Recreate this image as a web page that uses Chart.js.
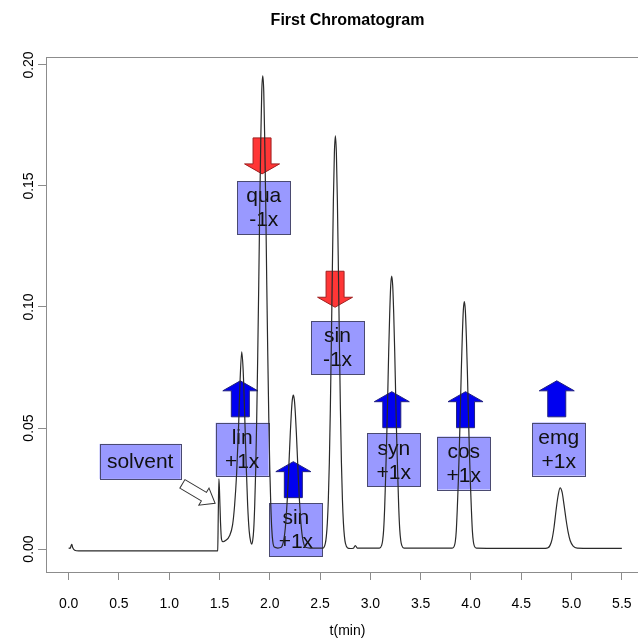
<!DOCTYPE html>
<html>
<head>
<meta charset="utf-8">
<title>First Chromatogram</title>
<script src="https://cdn.jsdelivr.net/npm/chart.js@4/dist/chart.umd.min.js"></script>
<style>
  html, body { margin: 0; padding: 0; background: #fff; overflow: hidden; }
  canvas { display: block; }
</style>
</head>
<body>
<canvas id="chrom" width="660" height="638"></canvas>
<script>
// Detector trace: retention time (min) and signal
const times = [
  0.000, 0.015, 0.025, 0.032, 0.040, 0.060, 0.100, 0.500, 1.000, 1.470,
  1.482, 1.488, 1.494, 1.500, 1.510, 1.520, 1.535,
  1.560, 1.600, 1.630, 1.650, 1.670, 1.690, 1.705, 1.721, 1.735, 1.750, 1.765, 1.780, 1.795, 1.810,
  1.820, 1.830, 1.840, 1.850, 1.860, 1.870, 1.880, 1.890, 1.900, 1.910, 1.920, 1.930,
  1.940, 1.950, 1.960, 1.970, 1.980, 1.990, 2.000, 2.010, 2.020, 2.030, 2.045, 2.080,
  2.114, 2.134, 2.144, 2.154, 2.164, 2.174, 2.184, 2.194, 2.204, 2.214, 2.224, 2.234,
  2.244, 2.254, 2.264, 2.274, 2.284, 2.294, 2.304, 2.314, 2.324, 2.334, 2.354, 2.400, 2.500,
  2.530, 2.552, 2.562, 2.572, 2.582, 2.592, 2.602, 2.612, 2.622, 2.632, 2.642, 2.652,
  2.662, 2.672, 2.682, 2.692, 2.702, 2.712, 2.722, 2.732, 2.742, 2.752, 2.774,
  2.800, 2.830, 2.850, 2.870, 2.900, 3.000,
  3.090, 3.112, 3.122, 3.132, 3.142, 3.152, 3.162, 3.172, 3.182, 3.192, 3.202, 3.212,
  3.222, 3.232, 3.242, 3.252, 3.262, 3.272, 3.282, 3.292, 3.302, 3.312, 3.334, 3.500, 3.700,
  3.814, 3.834, 3.844, 3.854, 3.864, 3.874, 3.884, 3.894, 3.904, 3.914, 3.924, 3.934,
  3.944, 3.954, 3.964, 3.974, 3.984, 3.994, 4.004, 4.014, 4.024, 4.034, 4.054, 4.300, 4.600,
  4.740, 4.766, 4.786, 4.806, 4.826, 4.846, 4.866, 4.886, 4.906, 4.926, 4.946, 4.966, 4.986,
  5.016, 5.056, 5.200, 5.500
];
const signal = [
  0.0004, 0.0003, 0.0014, 0.0019, 0.0006, -0.0005, -0.0008, -0.0008, -0.0008, -0.0008,
  -0.0007, 0.0150, 0.0290, 0.0240, 0.0110, 0.0040, 0.0030,
  0.0035, 0.0055, 0.0100, 0.0180, 0.0310, 0.0510, 0.0700, 0.0815, 0.0740, 0.0560, 0.0350, 0.0180, 0.0075, 0.0030,
  0.0020, 0.0035, 0.0080, 0.0180, 0.0330, 0.0540, 0.0800, 0.1090, 0.1410, 0.1680, 0.1890, 0.1955,
  0.1890, 0.1680, 0.1410, 0.1090, 0.0800, 0.0540, 0.0330, 0.0180, 0.0080, 0.0030, 0.0008, 0.0004,
  0.0007, 0.0028, 0.0050, 0.0086, 0.0138, 0.0207, 0.0292, 0.0386, 0.0480, 0.0561, 0.0617, 0.0636,
  0.0617, 0.0561, 0.0480, 0.0386, 0.0292, 0.0207, 0.0138, 0.0086, 0.0050, 0.0028, 0.0007, 0.0004, 0.0004,
  0.0004, 0.0023, 0.0052, 0.0107, 0.0205, 0.0358, 0.0579, 0.0853, 0.1157, 0.1437, 0.1635, 0.1707,
  0.1635, 0.1437, 0.1157, 0.0853, 0.0579, 0.0358, 0.0205, 0.0107, 0.0052, 0.0023, 0.0004,
  0.0002, 0.0003, 0.0014, 0.0004, 0.0004, 0.0004,
  0.0004, 0.0015, 0.0035, 0.0080, 0.0170, 0.0305, 0.0452, 0.0627, 0.0814, 0.0972, 0.1088, 0.1128,
  0.1088, 0.0972, 0.0814, 0.0627, 0.0452, 0.0305, 0.0170, 0.0080, 0.0035, 0.0015, 0.0004, 0.0004, 0.0004,
  0.0004, 0.0012, 0.0030, 0.0075, 0.0165, 0.0276, 0.0410, 0.0568, 0.0738, 0.0880, 0.0986, 0.1022,
  0.0986, 0.0880, 0.0738, 0.0568, 0.0410, 0.0276, 0.0165, 0.0075, 0.0030, 0.0012, 0.0004, 0.0003, 0.0003,
  0.0003, 0.0005, 0.0015, 0.0040, 0.0090, 0.0160, 0.0220, 0.0253, 0.0235, 0.0180, 0.0120, 0.0070, 0.0035,
  0.0012, 0.0004, 0.0003, 0.0003
];

// Axis ticks
const xTicks = [0, 0.5, 1, 1.5, 2, 2.5, 3, 3.5, 4, 4.5, 5, 5.5];
const yTicks = [0, 0.05, 0.10, 0.15, 0.20];

// Peak tags: name, response factor, tag centre (time, signal)
const tagNames   = ['lin', 'qua', 'sin', 'sin', 'syn', 'cos', 'emg'];
const tagFactors = ['+1x', '-1x', '+1x', '-1x', '+1x', '+1x', '+1x'];
const tagTimes   = [1.725, 1.940, 2.259, 2.673, 3.232, 3.928, 4.873];
const tagLevels  = [0.0412, 0.1411, 0.0080, 0.0832, 0.0369, 0.0355, 0.0413];
// Arrow tip for each tag (time, signal)
const arrowTimes = [1.707, 1.923, 2.234, 2.649, 3.213, 3.946, 4.853];
const arrowTips  = [0.0695, 0.1550, 0.0361, 0.0999, 0.0650, 0.0650, 0.0695];

// Solvent front label and pointer
const solventLabel = 'solvent';
const solventTagPos = [0.711, 0.0362];
const solventTipPos = [1.456, 0.0189];

const FONT = '"Liberation Sans", Arial, Helvetica, sans-serif';

function drawBlockArrow(ctx, x, tipY, up, fill, stroke) {
  const headW = 35, headH = 10, shaftW = 18, len = 36;
  const s = up ? 1 : -1;            // up: body below tip
  const baseY = tipY + s * headH;
  const endY = tipY + s * len;
  ctx.beginPath();
  ctx.moveTo(x, tipY);
  ctx.lineTo(x + headW / 2, baseY);
  ctx.lineTo(x + shaftW / 2, baseY);
  ctx.lineTo(x + shaftW / 2, endY);
  ctx.lineTo(x - shaftW / 2, endY);
  ctx.lineTo(x - shaftW / 2, baseY);
  ctx.lineTo(x - headW / 2, baseY);
  ctx.closePath();
  ctx.fillStyle = fill;
  ctx.fill();
  ctx.lineWidth = 1;
  ctx.strokeStyle = stroke;
  ctx.stroke();
}

function drawTag(ctx, cx, cy, w, h, lines) {
  ctx.fillStyle = 'rgba(105, 105, 255, 0.68)';
  ctx.fillRect(cx - w / 2, cy - h / 2, w, h);
  ctx.lineWidth = 1;
  ctx.strokeStyle = '#4a4a70';
  ctx.strokeRect(Math.round(cx - w / 2) + 0.5, Math.round(cy - h / 2) + 0.5, w, h);
  ctx.fillStyle = '#111';
  ctx.font = '21px ' + FONT;
  ctx.textAlign = 'center';
  ctx.textBaseline = 'middle';
  const lh = 24;
  const y0 = cy - (lines.length - 1) * lh / 2;
  lines.forEach((t, i) => ctx.fillText(t, cx, y0 + i * lh + 1));
}

const annotations = {
  id: 'peakAnnotations',
  beforeDatasetsDraw(chart) {
    const { ctx, scales: { x, y } } = chart;
    ctx.save();
    // solvent tag and hollow pointer
    drawTag(ctx, x.getPixelForValue(solventTagPos[0]), y.getPixelForValue(solventTagPos[1]), 81, 35, [solventLabel]);
    const tx = x.getPixelForValue(solventTipPos[0]);
    const ty = y.getPixelForValue(solventTipPos[1]);
    ctx.save();
    ctx.translate(tx, ty);
    ctx.rotate(Math.atan2(19, 32));
    ctx.beginPath();
    ctx.moveTo(0, 0);
    ctx.lineTo(-13, -10);
    ctx.lineTo(-13, -5);
    ctx.lineTo(-38, -5);
    ctx.lineTo(-38, 5);
    ctx.lineTo(-13, 5);
    ctx.lineTo(-13, 10);
    ctx.closePath();
    ctx.fillStyle = '#fff';
    ctx.fill();
    ctx.strokeStyle = '#333';
    ctx.lineWidth = 1;
    ctx.stroke();
    ctx.restore();

    // peak tags with response arrows
    tagNames.forEach((name, i) => {
      const up = tagFactors[i].startsWith('+');
      drawTag(ctx, x.getPixelForValue(tagTimes[i]), y.getPixelForValue(tagLevels[i]), 53, 53, [name, tagFactors[i]]);
      drawBlockArrow(ctx, x.getPixelForValue(arrowTimes[i]), y.getPixelForValue(arrowTips[i]), up,
        up ? '#0000f0' : '#ff3636', up ? '#202080' : '#a02020');
    });
    ctx.restore();
  },
  afterDraw(chart) {
    const { ctx, chartArea: a, scales: { y } } = chart;
    ctx.save();
    // plot frame
    ctx.strokeStyle = '#8c8c8c';
    ctx.lineWidth = 1;
    ctx.strokeRect(a.left + 0.5, a.top + 0.5, a.right - a.left, a.bottom - a.top);
    // title
    const cx = (a.left + a.right) / 2;
    ctx.fillStyle = '#000';
    ctx.textAlign = 'center';
    ctx.textBaseline = 'middle';
    ctx.font = 'bold 16px ' + FONT;
    ctx.fillText('First Chromatogram', cx, 21);
    // x axis title
    ctx.font = '14px ' + FONT;
    ctx.fillText('t(min)', cx, 631);
    // y tick labels, reading upward
    yTicks.forEach(v => {
      ctx.save();
      ctx.translate(29, y.getPixelForValue(v));
      ctx.rotate(-Math.PI / 2);
      ctx.fillText(v.toFixed(2), 0, 0);
      ctx.restore();
    });
    ctx.restore();
  }
};

new Chart(document.getElementById('chrom'), {
  type: 'scatter',
  data: {
    datasets: [{
      data: times.map((t, i) => ({ x: t, y: signal[i] })),
      showLine: true,
      borderColor: '#2a2a2a',
      borderWidth: 1.2,
      pointRadius: 0,
      cubicInterpolationMode: 'monotone',
      fill: false
    }]
  },
  options: {
    responsive: false,
    animation: false,
    devicePixelRatio: 1,
    layout: { padding: { top: 57, right: 11, left: 0, bottom: 0 } },
    plugins: { legend: { display: false }, title: { display: false }, tooltip: { enabled: false } },
    scales: {
      x: {
        type: 'linear',
        min: -0.225,
        max: 5.77,
        afterBuildTicks: s => { s.ticks = xTicks.map(v => ({ value: v })); },
        afterFit: s => { s.height = 66; },
        border: { display: false },
        grid: { drawOnChartArea: false, drawTicks: true, tickLength: 8, color: '#8c8c8c' },
        ticks: {
          padding: 16,
          color: '#000',
          font: { family: FONT, size: 14 },
          maxRotation: 0,
          callback: v => Number(v).toFixed(1)
        }
      },
      y: {
        type: 'linear',
        min: -0.0095,
        max: 0.2033,
        afterBuildTicks: s => { s.ticks = yTicks.map(v => ({ value: v })); },
        afterFit: s => { s.width = 46; },
        border: { display: false },
        grid: { drawOnChartArea: false, drawTicks: true, tickLength: 8, color: '#8c8c8c' },
        ticks: { display: false }
      }
    }
  },
  plugins: [annotations]
});
</script>
</body>
</html>
